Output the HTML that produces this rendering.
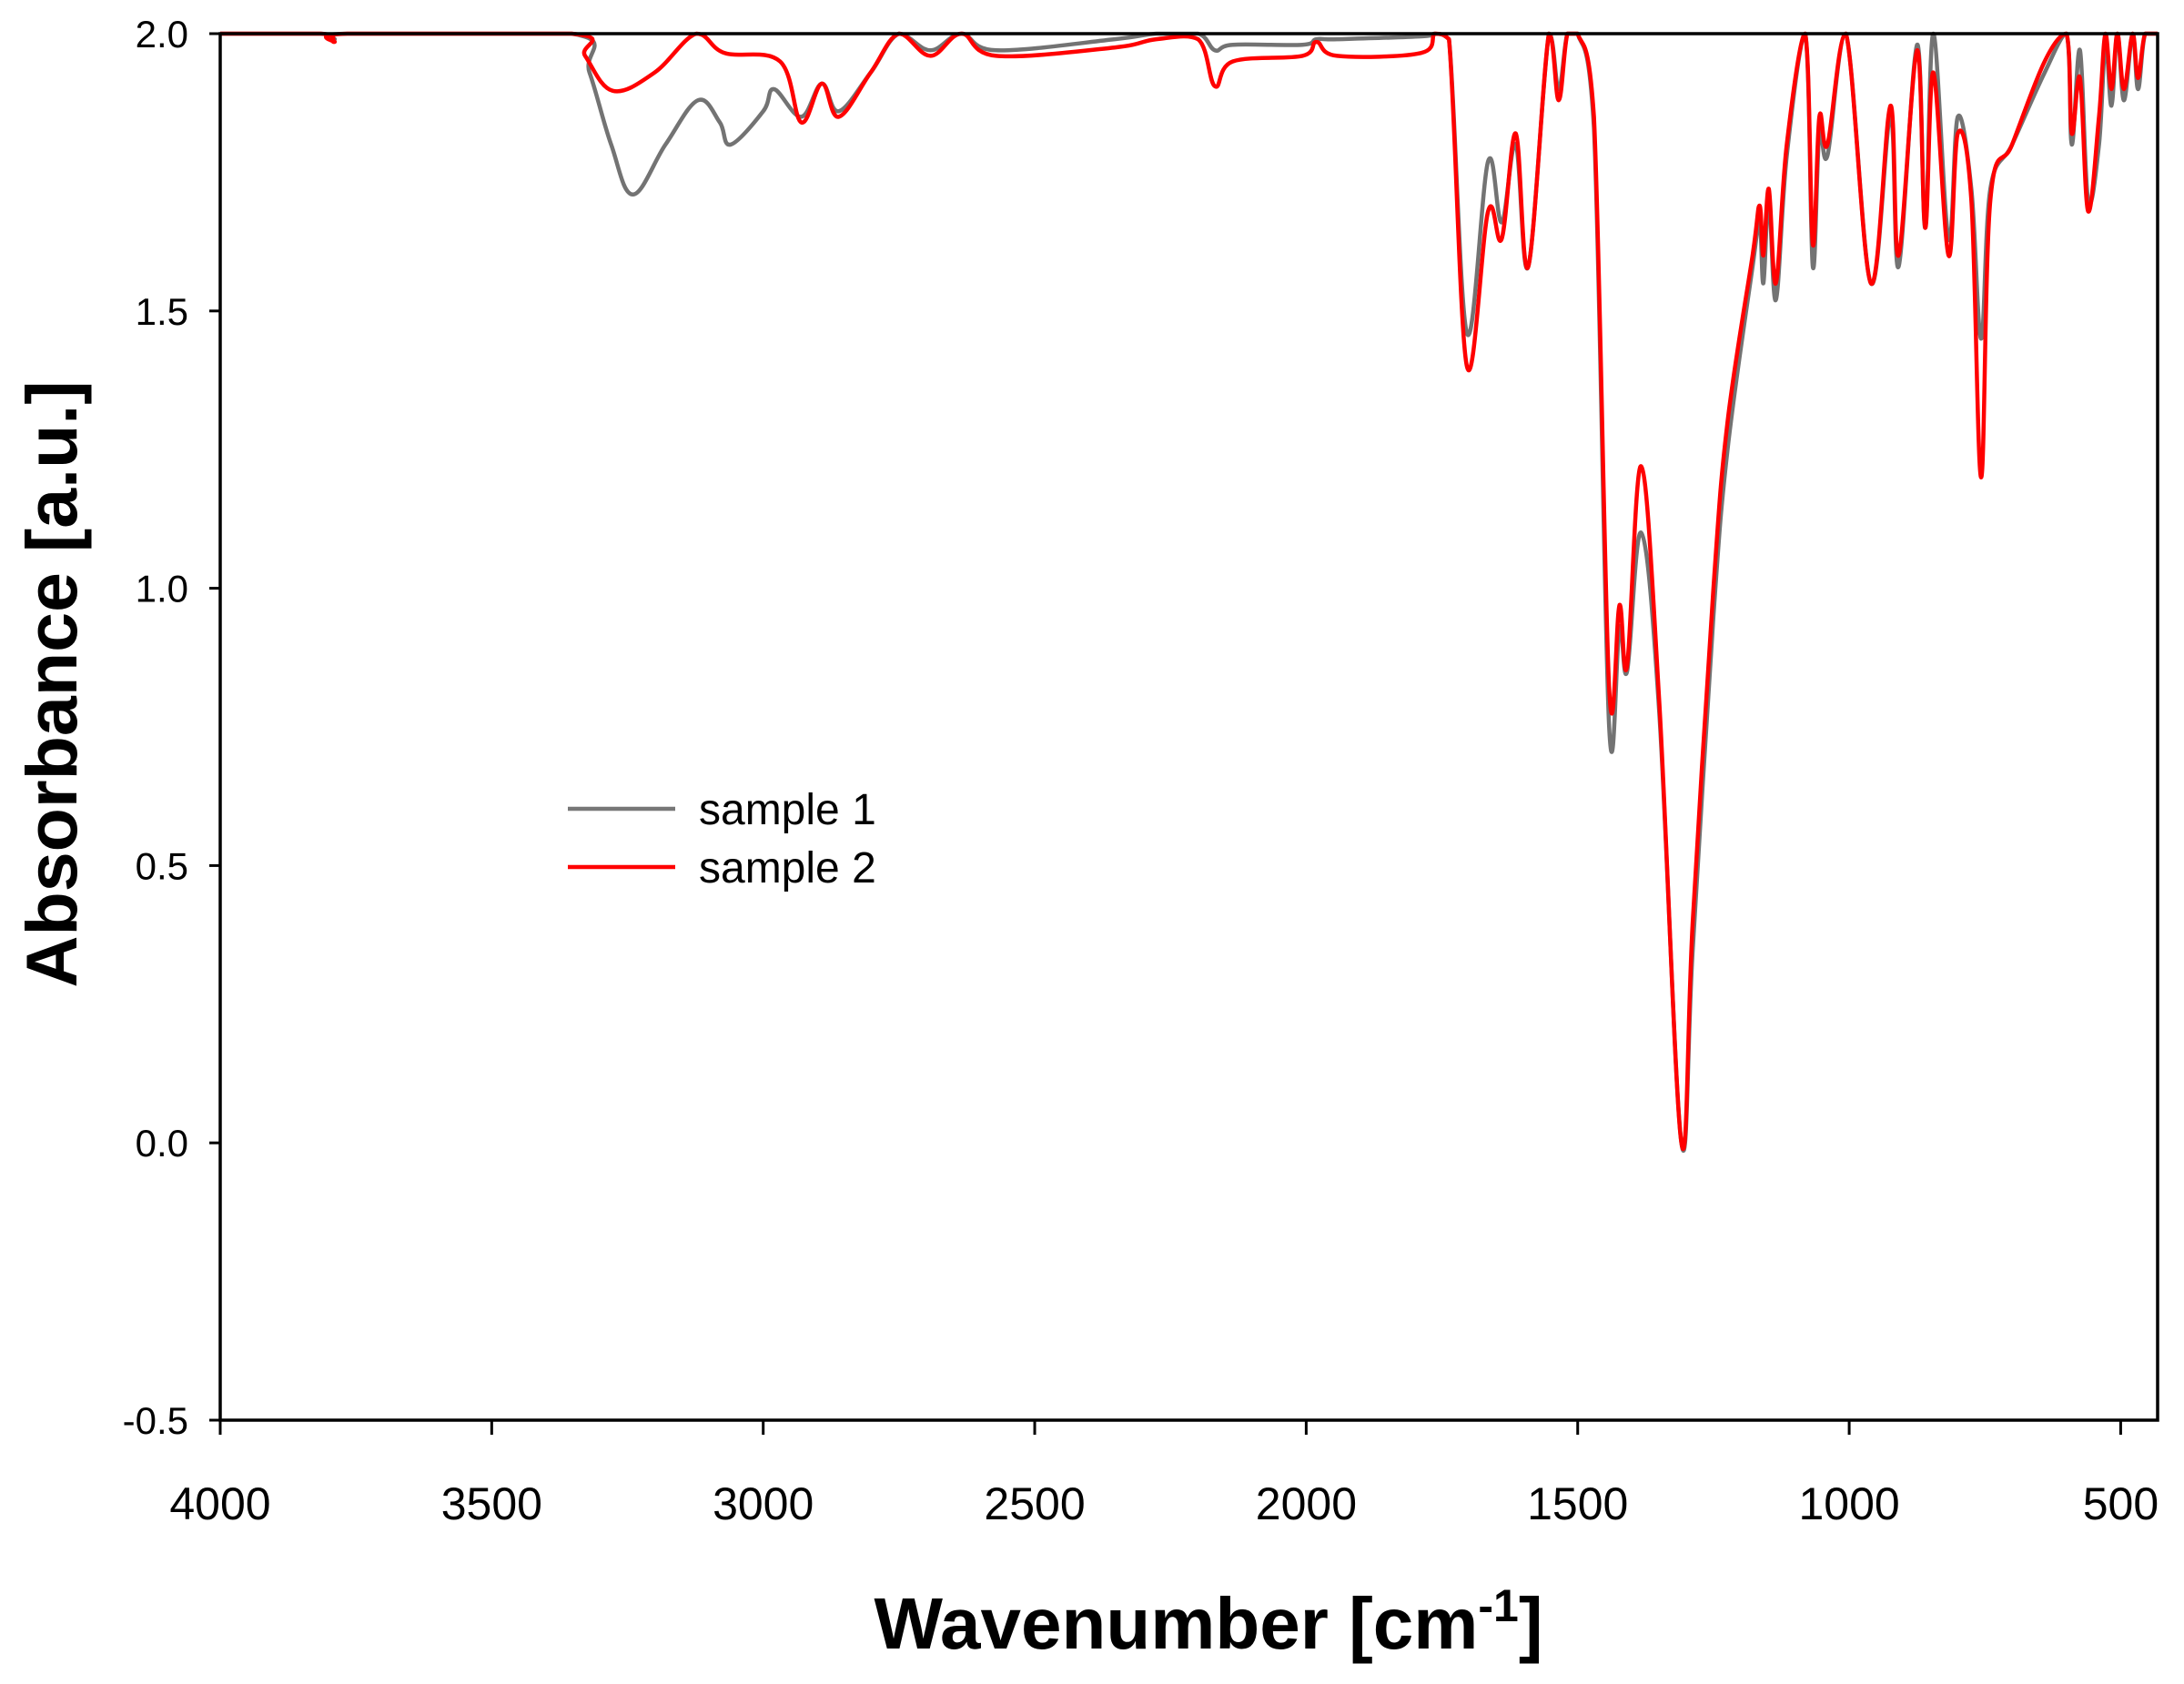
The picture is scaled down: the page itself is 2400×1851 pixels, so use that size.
<!DOCTYPE html>
<html><head><meta charset="utf-8"><style>
html,body{margin:0;padding:0;background:#fff;}
svg{display:block;font-family:"Liberation Sans",Arial,sans-serif;}
</style></head><body>
<svg id="chart" width="2400" height="1851" viewBox="0 0 2400 1851" xmlns="http://www.w3.org/2000/svg">
<rect width="2400" height="1851" fill="#fff"/>
<g id="plot"></g>
<g id="axes"></g>
<text transform="translate(84,752) rotate(-90)" text-anchor="middle" font-size="79" font-weight="bold">Absorbance [a.u.]</text>
<text x="1328" y="1812" text-anchor="middle" font-size="80" font-weight="bold">Wavenumber [cm<tspan font-size="50" dy="-30">-1</tspan><tspan dy="30">]</tspan></text>
<g>
<line x1="624" y1="889" x2="742" y2="889" stroke="#777" stroke-width="4.5"/>
<text x="768" y="906" font-size="48">sample 1</text>
<line x1="624" y1="953" x2="742" y2="953" stroke="#ff0000" stroke-width="4.5"/>
<text x="768" y="970" font-size="48">sample 2</text>
</g>
</svg>
<script>
const xTicks = [4000,3500,3000,2500,2000,1500,1000,500];
const yTicks = [-0.5,0.0,0.5,1.0,1.5,2.0];
const s2Wave = [4000,3815,3790,3765,3353,3328,3277,3200,3123,3071,2969,2930,2892,2861,2802,2750,2692,2635,2571,2353,2276,2199,2168,2135,2007,1981,1943,1789,1763,1737,1704,1665,1640,1614,1591,1553,1535,1519,1500,1470,1442,1423,1409,1383,1350,1309,1288,1250,1224,1178,1165,1158,1148,1135,1115,1081,1067,1055,1040,1006,960,924,909,875,860,845,817,800,775,757,740,700,640,600,590,575,560,540,528,517,506,494,478,468,455,432];
const s2Val  = [2.0,2.0,1.985,2.0,2.0,1.96,1.897,1.93,2.0,1.965,1.95,1.84,1.91,1.85,1.93,2.0,1.96,2.0,1.96,1.975,1.99,1.99,1.905,1.95,1.96,1.985,1.96,1.965,2.0,1.99,1.40,1.68,1.63,1.82,1.58,2.0,1.88,2.0,2.0,1.85,0.82,0.97,0.86,1.22,0.80,0.0,0.40,1.0,1.30,1.60,1.69,1.60,1.72,1.55,1.80,2.0,1.62,1.85,1.80,2.0,1.55,1.87,1.60,1.97,1.65,1.93,1.60,1.82,1.70,1.20,1.70,1.80,1.95,2.0,1.82,1.92,1.68,1.85,2.0,1.90,2.0,1.90,2.0,1.92,2.0,2.0];
const s1Wave = [4000,3815,3790,3765,3353,3320,3280,3240,3180,3120,3080,3060,3000,2980,2930,2892,2861,2802,2750,2692,2635,2571,2353,2276,2199,2168,2135,2007,1981,1943,1789,1763,1737,1704,1665,1640,1614,1591,1553,1535,1519,1500,1470,1442,1423,1409,1383,1350,1309,1288,1250,1224,1178,1165,1158,1148,1135,1115,1081,1067,1055,1040,1006,960,924,909,875,860,845,817,800,775,757,740,700,640,600,590,575,560,540,528,517,506,494,478,468,455,432];
const s1Val  = [2.0,2.0,1.99,2.0,2.0,1.93,1.80,1.71,1.80,1.88,1.84,1.80,1.86,1.90,1.85,1.91,1.86,1.93,2.0,1.97,2.0,1.97,1.99,2.0,2.0,1.97,1.98,1.98,1.99,1.99,1.995,2.0,1.99,1.46,1.77,1.66,1.80,1.58,2.0,1.90,2.0,2.0,1.83,0.75,0.93,0.85,1.10,0.78,0.0,0.35,0.95,1.25,1.58,1.66,1.55,1.70,1.52,1.78,2.0,1.58,1.82,1.78,2.0,1.55,1.85,1.58,1.98,1.65,2.0,1.63,1.85,1.72,1.45,1.72,1.80,1.93,2.0,1.80,1.97,1.70,1.80,1.98,1.87,2.0,1.88,2.0,1.90,2.0,2.0];

const L=242,R=2371,T=37,B=1561;
const X0=4000,X1=432,Y0=-0.5,Y1=2.0;
function xs(w){return L+(X0-w)/(X0-X1)*(R-L);}
function ys(v){return B-(v-Y0)/(Y1-Y0)*(B-T);}
const NS='http://www.w3.org/2000/svg';
const plot=document.getElementById('plot');
const axes=document.getElementById('axes');
function mk(tag,attrs,parent){const e=document.createElementNS(NS,tag);for(const k in attrs)e.setAttribute(k,attrs[k]);parent.appendChild(e);return e;}
function line(wave,val,color,name){
  const P=wave.map((w,i)=>[xs(w),Math.max(ys(val[i]),T)]);
  let d='M'+P[0][0].toFixed(1)+','+P[0][1].toFixed(1);
  for(let i=0;i<P.length-1;i++){
    const p0=P[i>0?i-1:i],p1=P[i],p2=P[i+1],p3=P[i+2<P.length?i+2:i+1];
    const k=0.18;
    let c1y=p1[1]+(p2[1]-p0[1])*k, c2y=p2[1]-(p3[1]-p1[1])*k;
    c1y=Math.max(c1y,T); c2y=Math.max(c2y,T);
    const c1x=p1[0]+(p2[0]-p0[0])*k, c2x=p2[0]-(p3[0]-p1[0])*k;
    d+='C'+c1x.toFixed(1)+','+c1y.toFixed(1)+' '+c2x.toFixed(1)+','+c2y.toFixed(1)+' '+p2[0].toFixed(1)+','+p2[1].toFixed(1);
  }
  const p=mk('path',{d:d,fill:'none',stroke:color,'stroke-width':4.5,'stroke-linejoin':'round'},plot);
  
  
}
line(s1Wave,s1Val,'#737373','series-sample-1');
line(s2Wave,s2Val,'#ff0000','series-sample-2');
const frame=mk('rect',{x:L,y:T,width:R-L,height:B-T,fill:'none',stroke:'#000','stroke-width':3.5},axes);


xTicks.forEach(t=>{
  const x=xs(t);
  const tk=mk('line',{x1:x,y1:B,x2:x,y2:B+16,stroke:'#000','stroke-width':3},axes);
  
  
  const tx=mk('text',{x:x,y:1670,'text-anchor':'middle','font-size':50},axes);
  tx.textContent=t;
  
  
});
yTicks.forEach(t=>{
  const y=ys(t);
  const tk=mk('line',{x1:L-12,y1:y,x2:L,y2:y,stroke:'#000','stroke-width':3},axes);
  
  
  const tx=mk('text',{x:207,y:y+15,'text-anchor':'end','font-size':42},axes);
  tx.textContent=t.toFixed(1);
  
  
});
</script>
</body></html>
